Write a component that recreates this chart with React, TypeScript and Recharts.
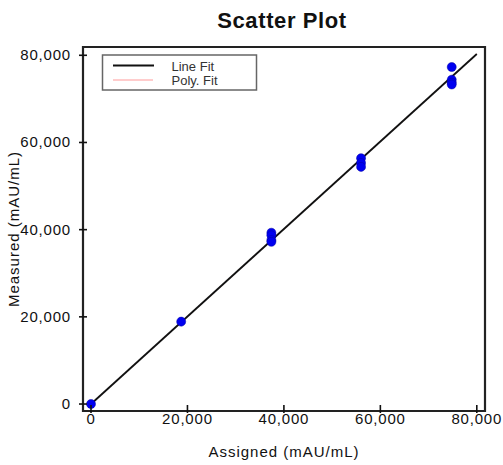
import React from "react";
import {
  ScatterChart, Scatter, XAxis, YAxis, ReferenceArea,
} from "recharts";

// measured points (assigned, measured) in mAU/mL
const assigned = [0, 18700, 37400, 37400, 37400, 37400, 56000, 56000, 56000, 74800, 74800, 74800, 74800];
const measured = [0, 18900, 39300, 38700, 37600, 37200, 56400, 55300, 54400, 77300, 74400, 73700, 73300];

const lineFitX = [0, 80000];
const lineFitY = [0, 80300];
const polyFitX = [0, 40000, 80000];
const polyFitY = [0, 40100, 80300];

const axisTicks = [0, 20000, 40000, 60000, 80000];
const xDomain = [-1660, 81700];
const yDomain = [-1600, 81900];

const points = assigned.map((x, i) => ({ x, y: measured[i] }));
const lineFit = lineFitX.map((x, i) => ({ x, y: lineFitY[i] }));
const polyFit = polyFitX.map((x, i) => ({ x, y: polyFitY[i] }));

const FONT = "'Liberation Sans', Arial, sans-serif";
const fmt = (v: number) => v.toLocaleString("en-US");

const XTick = (props: any) => {
  const { x, y, payload } = props;
  return (
    <g>
      <line x1={x} x2={x} y1={y - 6} y2={y + 2} stroke="#111" strokeWidth={1.6} />
      <text x={x} y={y + 13} textAnchor="middle" fontSize={15} letterSpacing={0.8} fill="#111" fontFamily={FONT}>
        {fmt(payload.value)}
      </text>
    </g>
  );
};

const YTick = (props: any) => {
  const { x, y, payload } = props;
  return (
    <g>
      <line x1={x - 4} x2={x + 4} y1={y} y2={y} stroke="#111" strokeWidth={1.6} />
      <text x={x - 12} y={y + 5} textAnchor="end" fontSize={15} letterSpacing={0.8} fill="#111" fontFamily={FONT}>
        {fmt(payload.value)}
      </text>
    </g>
  );
};

const noDot = () => <g />;

export default function App() {
  return (
    <div style={{ position: "absolute", left: 0, top: 0, width: 503, height: 465, background: "#fff" }}>
      <ScatterChart width={503} height={465} margin={{ top: 47, right: 18, left: 0, bottom: 0 }}>
        <XAxis
          type="number"
          dataKey="x"
          domain={xDomain}
          ticks={axisTicks}
          interval={0}
          axisLine={false}
          tickLine={false}
          tickSize={0}
          tickMargin={0}
          height={54}
          tick={XTick}
          allowDataOverflow
          label={{ value: "Assigned (mAU/mL)", position: "insideBottom", offset: 8, fontSize: 15, letterSpacing: 1, fill: "#111", fontFamily: FONT }}
        />
        <YAxis
          type="number"
          dataKey="y"
          domain={yDomain}
          ticks={axisTicks}
          interval={0}
          axisLine={false}
          tickLine={false}
          tickSize={0}
          tickMargin={0}
          width={83}
          tick={YTick}
          allowDataOverflow
          label={{ value: "Measured (mAU/mL)", angle: -90, position: "insideLeft", offset: 14, fontSize: 15, letterSpacing: 1, fill: "#111", fontFamily: FONT, style: { textAnchor: "middle" } }}
        />
        <Scatter data={polyFit} line={{ stroke: "#ff9a9a", strokeWidth: 1 }} shape={noDot} isAnimationActive={false} />
        <Scatter data={lineFit} line={{ stroke: "#111", strokeWidth: 1.8 }} shape={noDot} isAnimationActive={false} />
        <Scatter data={points} fill="#0000f0" stroke="#0000a0" strokeWidth={0.5} shape="circle" isAnimationActive={false}
          size={42} />
        <ReferenceArea x1={xDomain[0]} x2={xDomain[1]} y1={yDomain[0]} y2={yDomain[1]} fill="none" fillOpacity={0}
          stroke="#222" strokeWidth={2.2} ifOverflow="visible" />
      </ScatterChart>
      <svg width={503} height={465} style={{ position: "absolute", left: 0, top: 0, pointerEvents: "none" }}>
        <text x={282} y={28} textAnchor="middle" fontSize={22} fontWeight="bold" letterSpacing={0.6} fill="#111" fontFamily={FONT}>
          Scatter Plot
        </text>
        <rect x={102.5} y={55} width={154} height={35} fill="#fff" stroke="#666" strokeWidth={1.5} />
        <line x1={113} x2={154} y1={65.5} y2={65.5} stroke="#111" strokeWidth={2} />
        <line x1={113} x2={153} y1={80} y2={80} stroke="#ff9a9a" strokeWidth={1} />
        <text x={171.5} y={70.5} fontSize={13} fill="#333" fontFamily={FONT}>Line Fit</text>
        <text x={171.5} y={85} fontSize={13} fill="#333" fontFamily={FONT}>Poly. Fit</text>
      </svg>
    </div>
  );
}
